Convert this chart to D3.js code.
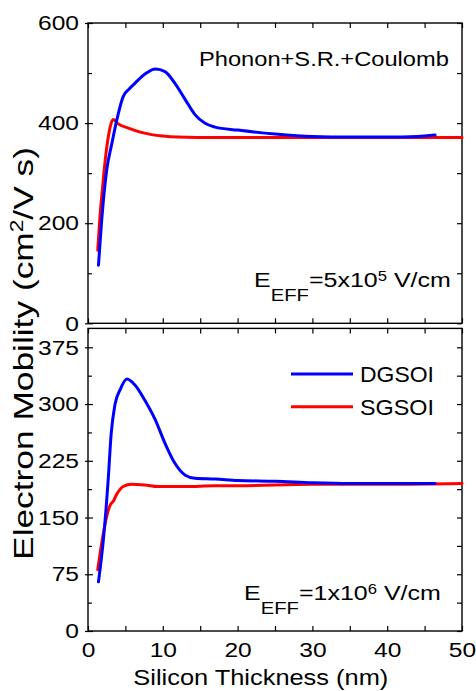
<!DOCTYPE html>
<html>
<head>
<meta charset="utf-8">
<script src="https://cdn.jsdelivr.net/npm/d3@7"></script>
<style>
  body { margin: 0; background: #fff; }
  svg { display: block; }
  text { font-family: "Liberation Sans", Arial, Helvetica, sans-serif; fill: #000; }
</style>
</head>
<body>
<svg id="chart" width="476" height="691"></svg>
<script>
// ---- data -------------------------------------------------------------
// Upper panel: E_eff = 5x10^5 V/cm
const dgTopThickness = [1.4, 1.8, 2.5, 3.2, 3.8, 4.7, 5.5, 6.3, 7.8, 9.0, 10.3, 11.6, 13.0, 14.3, 15.6, 17.0, 20, 25, 30, 35, 40, 44, 46.4];
const dgTopMobility  = [116, 200, 306, 360, 403, 453, 468, 480, 500, 508, 503, 480, 447, 417, 400, 392, 386, 378, 373, 372, 372, 373, 376];
const sgTopThickness = [1.3, 1.6, 2.0, 2.3, 2.8, 3.1, 3.4, 4.0, 5.4, 7.0, 8.5, 10, 12, 17, 25, 35, 50];
const sgTopMobility  = [146, 213, 280, 326, 380, 400, 407, 399, 390, 382, 377, 374, 372, 371, 371, 371, 371];

// Lower panel: E_eff = 1x10^6 V/cm
const dgBottomThickness = [1.4, 2.05, 2.7, 3.1, 3.6, 4.3, 5.2, 6.3, 7.6, 9.0, 10.3, 11.6, 13.0, 14.3, 17, 20, 25, 30, 35, 40, 46.4];
const dgBottomMobility  = [65, 120, 200, 261, 299, 319, 333, 325, 305, 279, 248, 222, 206, 202, 201, 199, 198, 196, 195, 195, 195];
const sgBottomThickness = [1.3, 1.75, 2.4, 2.9, 3.4, 3.8, 4.7, 5.8, 7.6, 9.4, 13, 17, 20, 30, 40, 50];
const sgBottomMobility  = [81, 111, 147, 165, 172, 180, 191, 194, 193, 191, 191, 192, 192, 194, 194, 195];

// ---- ticks and labels --------------------------------------------------
const thicknessTicks = [0, 10, 20, 30, 40, 50];
const thicknessMinorTicks = [5, 15, 25, 35, 45];
const topMobilityTicks = [0, 200, 400, 600];
const topMobilityMinorTicks = [100, 300, 500];
const bottomMobilityTicks = [0, 75, 150, 225, 300, 375];
const bottomMobilityMinorTicks = [37.5, 112.5, 187.5, 262.5, 337.5];
const legendLabels = ["DGSOI", "SGSOI"];
const seriesColors = ["#0000ff", "#ff0000"];

// ---- layout -----------------------------------------------------------
const svg = d3.select("#chart");
const plotLeft = 88, plotRight = 462;
const topPanel = { y0: 23, y1: 323.3 };
const bottomPanel = { y0: 328.4, y1: 631 };
const TEXT_STRETCH = 1.17;

const x = d3.scaleLinear().domain([0, 50]).range([plotLeft, plotRight]);
const yTop = d3.scaleLinear().domain([0, 600]).range([topPanel.y1, topPanel.y0]);
const yBottom = d3.scaleLinear().domain([0, 400]).range([bottomPanel.y1, bottomPanel.y0]);

// widen a text element horizontally about its anchor point
function stretchText(node, k) {
  const ax = +node.getAttribute("x") || 0;
  node.setAttribute("transform", `translate(${ax},0) scale(${k},1) translate(${-ax},0)`);
}
// widen a text so its rendered width equals target
function fitText(sel, target) {
  const node = sel.node();
  const w = node.getBBox().width;
  stretchText(node, target / w);
}

function drawPanel(yScale, panel, majorY, minorY, showXLabels) {
  const g = svg.append("g");

  // left axis with labels (major ticks cross the frame)
  const left = g.append("g").attr("transform", `translate(${plotLeft},0)`)
    .call(d3.axisLeft(yScale).tickValues(majorY).tickFormat(d3.format("d"))
      .tickSizeInner(-5).tickSizeOuter(0).tickPadding(9));
  left.selectAll(".tick line").attr("x1", -3);
  left.selectAll(".tick text").style("font-size", "21px").each(function () { stretchText(this, TEXT_STRETCH); });
  g.append("g").attr("transform", `translate(${plotLeft},0)`)
    .call(d3.axisLeft(yScale).tickValues(minorY).tickFormat("").tickSizeInner(-4).tickSizeOuter(0));

  // right axis, ticks only
  g.append("g").attr("transform", `translate(${plotRight},0)`)
    .call(d3.axisRight(yScale).tickValues(majorY.concat(minorY)).tickFormat("").tickSizeInner(-5).tickSizeOuter(0));

  // top axis, ticks only
  g.append("g").attr("transform", `translate(0,${panel.y0})`)
    .call(d3.axisTop(x).tickValues(thicknessTicks.concat(thicknessMinorTicks)).tickFormat("").tickSizeInner(-5).tickSizeOuter(0));

  // bottom axis
  const bottom = g.append("g").attr("transform", `translate(0,${panel.y1})`)
    .call(d3.axisBottom(x).tickValues(thicknessTicks).tickFormat(showXLabels ? d3.format("d") : "")
      .tickSizeInner(-5).tickSizeOuter(0).tickPadding(11));
  bottom.selectAll(".tick text").style("font-size", "21px").each(function () { stretchText(this, TEXT_STRETCH); });
  g.append("g").attr("transform", `translate(0,${panel.y1})`)
    .call(d3.axisBottom(x).tickValues(thicknessMinorTicks).tickFormat("").tickSizeInner(-5).tickSizeOuter(0));

  g.selectAll(".domain").remove();
  g.selectAll(".tick line").attr("stroke", "#000").attr("stroke-width", 1.2);

  // frame
  g.append("rect")
    .attr("x", plotLeft).attr("y", panel.y0)
    .attr("width", plotRight - plotLeft).attr("height", panel.y1 - panel.y0)
    .attr("fill", "none").attr("stroke", "#000").attr("stroke-width", 1.4);
  return g;
}

function drawSeries(g, yScale, xs, ys, color) {
  const pts = xs.map((t, i) => [t, ys[i]]);
  const line = d3.line().x(d => x(d[0])).y(d => yScale(d[1])).curve(d3.curveMonotoneX);
  g.append("path").datum(pts)
    .attr("d", line).attr("fill", "none")
    .attr("stroke", color).attr("stroke-width", 3)
    .attr("stroke-linejoin", "round").attr("stroke-linecap", "round");
}

const gTop = drawPanel(yTop, topPanel, topMobilityTicks, topMobilityMinorTicks, false);
drawSeries(gTop, yTop, sgTopThickness, sgTopMobility, seriesColors[1]);
drawSeries(gTop, yTop, dgTopThickness, dgTopMobility, seriesColors[0]);

const gBottom = drawPanel(yBottom, bottomPanel, bottomMobilityTicks, bottomMobilityMinorTicks, true);
drawSeries(gBottom, yBottom, sgBottomThickness, sgBottomMobility, seriesColors[1]);
drawSeries(gBottom, yBottom, dgBottomThickness, dgBottomMobility, seriesColors[0]);

// ---- annotations ------------------------------------------------------
const scattering = svg.append("text").attr("x", 199).attr("y", 66)
  .style("font-size", "21px").text("Phonon+S.R.+Coulomb");
fitText(scattering, 250);

function fieldLabel(xStart, baseline, mantissa, exponent, width) {
  const t = svg.append("text").attr("x", xStart).attr("y", baseline).style("font-size", "21px");
  t.append("tspan").text("E");
  t.append("tspan").attr("dy", 14).style("font-size", "17px").text("EFF");
  t.append("tspan").attr("dy", -14).text(`=${mantissa}x10`);
  t.append("tspan").attr("dy", -6).style("font-size", "14px").text(exponent);
  t.append("tspan").attr("dy", 6).text(" V/cm");
  fitText(t, width);
}
fieldLabel(254, 287, "5", "5", 197);
fieldLabel(244, 600, "1", "6", 197);

// legend
const legendY = [374, 406.7];
legendLabels.forEach((label, i) => {
  svg.append("line")
    .attr("x1", 291).attr("x2", 353).attr("y1", legendY[i]).attr("y2", legendY[i])
    .attr("stroke", seriesColors[i]).attr("stroke-width", 3);
  const t = svg.append("text").attr("x", 360).attr("y", legendY[i] + 8)
    .style("font-size", "22px").text(label);
  fitText(t, 74);
});

// axis titles
const xTitle = svg.append("text").attr("x", 260.8).attr("y", 685)
  .attr("text-anchor", "middle").style("font-size", "22px").text("Silicon Thickness (nm)");
fitText(xTitle, 255);

const yTitleG = svg.append("g").attr("transform", "translate(33,353.5) rotate(-90)");
const yTitle = yTitleG.append("text").attr("x", 0).attr("y", 0)
  .attr("text-anchor", "middle").style("font-size", "28px");
yTitle.append("tspan").text("Electron Mobility (cm");
yTitle.append("tspan").attr("dy", -10).style("font-size", "18px").text("2");
yTitle.append("tspan").attr("dy", 10).text("/V s)");
fitText(yTitle, 413);
</script>
</body>
</html>
